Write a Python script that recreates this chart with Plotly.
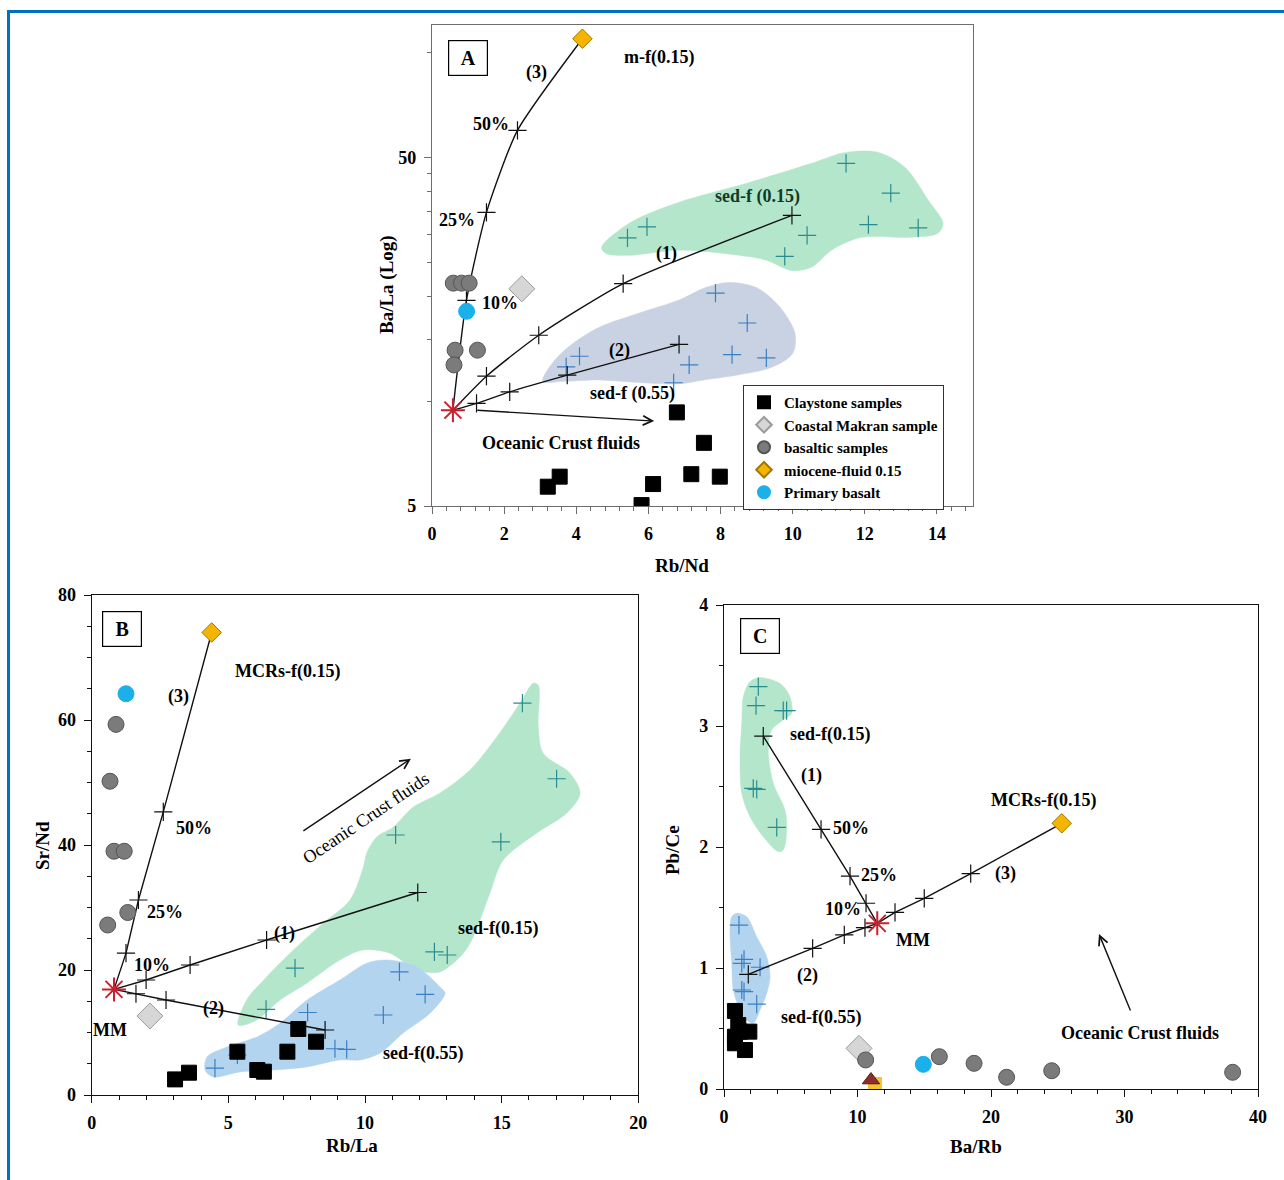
import math
import plotly.graph_objects as go

# ---------------- Panel A : Ba/La (log) vs Rb/Nd ----------------
A_clay_x = [3.21, 3.54, 6.13, 5.81, 6.79, 7.54, 7.19, 7.98]
A_clay_y = [5.68, 6.07, 5.78, 5.03, 9.28, 7.59, 6.17, 6.07]
A_basalt_x = [0.59, 0.82, 1.03, 0.64, 1.26, 0.61]
A_basalt_y = [21.8, 21.8, 21.8, 14.0, 14.0, 12.7]
A_makran_x, A_makran_y = [2.49], [21.0]
A_primary_x, A_primary_y = [0.96], [18.1]
A_fluid_x, A_fluid_y = [4.17], [109.6]
A_mm_x, A_mm_y = [0.58], [9.42]
A_sed015_x = [5.42, 5.96, 11.48, 12.72, 12.10, 13.48, 10.40, 9.78]
A_sed015_y = [29.4, 31.6, 48.1, 39.5, 32.1, 31.4, 29.9, 26.0]
A_sed055_x = [3.72, 4.09, 6.70, 7.86, 8.74, 7.13, 8.32, 9.27]
A_sed055_y = [12.53, 13.45, 11.29, 20.4, 16.75, 12.7, 13.6, 13.3]
A_mix1_x = [0.58, 1.51, 2.96, 5.30, 9.98]
A_mix1_y = [9.42, 11.79, 15.45, 21.73, 34.1]
A_mix2_x = [0.58, 1.235, 2.155, 3.75, 6.85]
A_mix2_y = [9.42, 9.85, 10.63, 11.87, 14.55]
A_mix3_x = [0.58, 0.955, 1.51, 2.37, 4.17]
A_mix3_y = [9.42, 19.45, 34.8, 59.8, 109.6]
A_green_x = [4.70, 5.47, 6.85, 8.70, 10.52, 11.46, 12.38, 13.12, 13.76, 14.17, 14.03, 13.29,
             11.91, 11.08, 10.52, 9.97, 9.25, 8.51, 6.85, 5.47, 4.83]
A_green_y = [27.6, 32.4, 37.2, 42.1, 48.1, 51.7, 51.7, 46.8, 37.7, 32.4, 30.3, 29.5,
             29.5, 27.1, 24.2, 23.7, 25.4, 26.2, 27.1, 26.2, 26.5]
A_blue_x = [3.07, 3.40, 3.95, 4.64, 5.75, 6.85, 7.60, 8.23, 8.98, 9.61, 10.06, 10.00,
            9.42, 8.51, 7.54, 6.85, 5.75, 4.64, 3.67]
A_blue_y = [11.4, 13.1, 14.75, 16.3, 17.9, 19.5, 21.2, 21.9, 21.2, 18.8, 15.7, 13.7,
            12.5, 11.9, 11.5, 11.2, 11.3, 11.5, 11.4]
A_xticks = [0, 2, 4, 6, 8, 10, 12, 14]
A_yticks = [5, 50]
A_yminor = [10, 15, 20, 25, 30, 35, 40, 45, 100]

# ---------------- Panel B : Sr/Nd vs Rb/La ----------------
B_clay_x = [3.05, 3.56, 5.33, 6.06, 6.30, 7.16, 7.56, 8.21]
B_clay_y = [2.5, 3.57, 6.93, 4.0, 3.73, 6.93, 10.56, 8.53]
B_basalt_x = [0.89, 0.67, 0.816, 1.19, 1.32, 0.585]
B_basalt_y = [59.3, 50.2, 39.0, 39.0, 29.2, 27.2]
B_makran_x, B_makran_y = [2.13], [12.64]
B_primary_x, B_primary_y = [1.255], [64.2]
B_fluid_x, B_fluid_y = [4.39], [74.0]
B_mm_x, B_mm_y = [0.816], [16.9]
B_sed015_x = [6.38, 7.44, 11.12, 12.54, 13.01, 14.97, 15.76, 17.01]
B_sed015_y = [13.7, 20.3, 41.6, 22.9, 22.4, 40.5, 62.7, 50.6]
B_sed055_x = [4.51, 5.33, 7.90, 8.90, 9.33, 10.67, 11.26, 12.2]
B_sed055_y = [4.3, 6.4, 13.2, 7.4, 7.3, 12.8, 19.7, 16.1]
B_mix1_x = [0.816, 1.99, 3.60, 6.40, 11.93]
B_mix1_y = [16.9, 18.4, 20.8, 24.8, 32.4]
B_mix2_x = [0.816, 1.62, 2.72, 8.54]
B_mix2_y = [16.9, 16.2, 15.2, 10.4]
B_mix3_x = [0.816, 1.255, 1.71, 2.62, 4.39]
B_mix3_y = [16.9, 22.7, 31.2, 45.3, 74.0]
B_green_x = [5.36, 5.67, 6.40, 7.38, 8.47, 9.45, 9.94, 10.06, 10.43, 11.04, 11.77, 12.74,
             13.84, 14.82, 15.67, 16.16, 16.34, 16.34, 16.52, 17.50, 17.87, 17.38, 16.28,
             15.06, 14.57, 13.96, 13.60, 12.74, 11.89, 10.91, 9.94, 9.08, 7.87, 6.89, 6.04]
B_green_y = [11.2, 15.2, 18.9, 23.2, 27.5, 31.2, 36.5, 38.7, 41.3, 42.9, 46.1, 48.3,
             52.0, 57.3, 62.7, 65.9, 65.6, 58.9, 54.7, 51.5, 48.3, 45.1, 41.9,
             37.6, 32.3, 25.3, 22.7, 19.7, 20.0, 22.7, 23.2, 21.6, 17.9, 15.2, 12.0]
B_blue_x = [4.15, 4.22, 4.95, 6.05, 6.89, 7.88, 9.08, 10.07, 10.80, 11.90, 12.74, 12.93,
            12.38, 11.39, 10.55, 9.82, 9.08, 7.88, 6.64, 5.43, 4.44]
B_blue_y = [4.0, 6.1, 7.7, 9.3, 11.5, 15.2, 18.4, 21.1, 21.6, 20.5, 17.3, 16.3,
            13.1, 9.9, 6.7, 5.6, 5.6, 4.5, 4.0, 3.7, 2.9]

# ---------------- Panel C : Pb/Ce vs Ba/Rb ----------------
C_clay_x = [0.82, 1.07, 1.90, 0.82, 0.82, 1.57, 1.20]
C_clay_y = [0.645, 0.529, 0.474, 0.432, 0.378, 0.322, 0.474]
C_basalt_x = [10.61, 16.13, 18.73, 21.17, 24.55, 38.1]
C_basalt_y = [0.24, 0.267, 0.212, 0.097, 0.151, 0.138]
C_makran_x, C_makran_y = [10.11], [0.336]
C_primary_x, C_primary_y = [14.93], [0.204]
C_fluid_x, C_fluid_y = [25.3], [2.196]
C_mm_x, C_mm_y = [11.48], [1.369]
C_pm_x, C_pm_y = [11.01], [0.074]
C_emorb_x, C_emorb_y = [11.31], [0.041]
C_sed015_x = [2.57, 2.40, 4.44, 4.69, 2.19, 2.45, 3.95]
C_sed015_y = [3.325, 3.168, 3.127, 3.127, 2.485, 2.477, 2.163]
C_sed055_x = [1.12, 1.50, 1.33, 2.70, 1.33, 1.50, 2.45]
C_sed055_y = [1.355, 1.072, 1.039, 1.006, 0.818, 0.804, 0.702]
C_mix1_x = [11.48, 10.64, 9.44, 7.27, 2.94]
C_mix1_y = [1.369, 1.535, 1.76, 2.146, 2.917]
C_mix2_x = [11.48, 10.56, 9.01, 6.64, 1.82]
C_mix2_y = [1.369, 1.333, 1.273, 1.163, 0.948]
C_mix3_x = [11.48, 12.81, 15.0, 18.48, 25.3]
C_mix3_y = [1.369, 1.46, 1.576, 1.78, 2.196]
C_green_x = [2.70, 4.19, 4.94, 5.07, 4.44, 3.57, 3.32, 3.69, 4.57, 4.70, 4.44, 4.07,
             2.94, 1.95, 1.33, 1.20, 1.33, 1.45, 1.95]
C_green_y = [3.40, 3.353, 3.242, 3.105, 3.05, 2.967, 2.802, 2.526, 2.306, 2.14, 1.975, 1.961,
             2.085, 2.25, 2.444, 2.746, 3.022, 3.242, 3.366]
C_blue_x = [0.95, 1.70, 2.45, 3.20, 3.45, 3.20, 2.70, 2.19, 1.70, 1.20, 0.70, 0.58, 0.45, 0.58]
C_blue_y = [1.452, 1.424, 1.259, 1.093, 0.928, 0.791, 0.653, 0.543, 0.570, 0.653, 0.818,
            1.039, 1.314, 1.424]

# ---------------- styles ----------------
FONT = "Liberation Serif"
GREEN_FILL = "#b4e6cc"
A_BLUE_FILL = "#c8d2e2"
BLUE_FILL = "#b2d4ef"
GREEN_CROSS = "#2a8c8e"
BLUE_CROSS = "#3b7fc4"
CLAY = "#000000"
BASALT = "#7b7b7b"
PRIMARY = "#1cb0ea"
MAKRAN = "#d6d6d6"
FLUID = "#f4b400"
STAR = "#c8202c"

fig = go.Figure()
axes = {"A": ("x", "y"), "B": ("x2", "y2"), "C": ("x3", "y3")}


def region(p, xs, ys, color):
    xa, ya = axes[p]
    fig.add_trace(go.Scatter(x=xs + xs[:1], y=ys + ys[:1], mode="lines", fill="toself",
                             fillcolor=color, line=dict(color=color, width=0.5, shape="spline",
                                                        smoothing=0.9),
                             hoverinfo="skip", showlegend=False, xaxis=xa, yaxis=ya))


def crosses(p, xs, ys, color):
    xa, ya = axes[p]
    fig.add_trace(go.Scatter(x=xs, y=ys, mode="markers",
                             marker=dict(symbol="cross-thin-open", size=13, color=color,
                                         line=dict(color=color, width=1.2)),
                             showlegend=False, xaxis=xa, yaxis=ya))


def mixing(p, xs, ys, spline=False):
    xa, ya = axes[p]
    fig.add_trace(go.Scatter(x=xs, y=ys, mode="lines",
                             line=dict(color="#111111", width=1.4,
                                       shape="spline" if spline else "linear", smoothing=0.6),
                             showlegend=False, xaxis=xa, yaxis=ya))
    fig.add_trace(go.Scatter(x=xs[1:], y=ys[1:], mode="markers",
                             marker=dict(symbol="cross-thin-open", size=13, color="#111111",
                                         line=dict(color="#111111", width=1.2)),
                             showlegend=False, xaxis=xa, yaxis=ya))


def points(p, xs, ys, name, symbol, size, color, lcolor, lw=1, legend=False):
    xa, ya = axes[p]
    fig.add_trace(go.Scatter(x=xs, y=ys, mode="markers", name=name,
                             marker=dict(symbol=symbol, size=size, color=color,
                                         line=dict(color=lcolor, width=lw)),
                             showlegend=legend, xaxis=xa, yaxis=ya))


# regions
region("A", A_green_x, A_green_y, GREEN_FILL)
region("A", A_blue_x, A_blue_y, A_BLUE_FILL)
region("B", B_green_x, B_green_y, GREEN_FILL)
region("B", B_blue_x, B_blue_y, BLUE_FILL)
region("C", C_green_x, C_green_y, GREEN_FILL)
region("C", C_blue_x, C_blue_y, BLUE_FILL)

# sediment-fluid crosses
crosses("A", A_sed015_x, A_sed015_y, GREEN_CROSS)
crosses("A", A_sed055_x, A_sed055_y, BLUE_CROSS)
crosses("B", B_sed015_x, B_sed015_y, GREEN_CROSS)
crosses("B", B_sed055_x, B_sed055_y, BLUE_CROSS)
crosses("C", C_sed015_x, C_sed015_y, GREEN_CROSS)
crosses("C", C_sed055_x, C_sed055_y, BLUE_CROSS)

# mixing curves
mixing("A", A_mix1_x, A_mix1_y, spline=True)
mixing("A", A_mix2_x, A_mix2_y, spline=True)
mixing("A", A_mix3_x, A_mix3_y, spline=True)
mixing("B", B_mix1_x, B_mix1_y)
mixing("B", B_mix2_x, B_mix2_y)
mixing("B", B_mix3_x, B_mix3_y)
mixing("C", C_mix1_x, C_mix1_y)
mixing("C", C_mix2_x, C_mix2_y)
mixing("C", C_mix3_x, C_mix3_y)

# sample points (panel A carries the legend)
for p, d in (("A", (A_clay_x, A_clay_y, A_makran_x, A_makran_y, A_basalt_x, A_basalt_y,
                    A_fluid_x, A_fluid_y, A_primary_x, A_primary_y)),
             ("B", (B_clay_x, B_clay_y, B_makran_x, B_makran_y, B_basalt_x, B_basalt_y,
                    B_fluid_x, B_fluid_y, B_primary_x, B_primary_y)),
             ("C", (C_clay_x, C_clay_y, C_makran_x, C_makran_y, C_basalt_x, C_basalt_y,
                    C_fluid_x, C_fluid_y, C_primary_x, C_primary_y))):
    lg = p == "A"
    points(p, d[0], d[1], "Claystone samples", "square", 15, CLAY, CLAY, legend=lg)
    points(p, d[2], d[3], "Coastal Makran sample", "diamond", 20, MAKRAN, "#9a9a9a", legend=lg)
    points(p, d[4], d[5], "basaltic samples", "circle", 16, BASALT, "#555555", legend=lg)
    points(p, d[6], d[7], "miocene-fluid 0.15", "diamond", 15, FLUID, "#a07a00", legend=lg)
    points(p, d[8], d[9], "Primary basalt", "circle", 16, PRIMARY, PRIMARY, legend=lg)

points("C", C_emorb_x, C_emorb_y, "EMORB", "square", 13, "#f5c430", "#f5c430")
points("C", C_pm_x, C_pm_y, "PM", "triangle-up", 15, "#8b2e2e", "#5a1a1a")

points("A", A_mm_x, A_mm_y, "MM", "asterisk-open", 20, STAR, STAR, lw=2)
points("B", B_mm_x, B_mm_y, "MM", "asterisk-open", 20, STAR, STAR, lw=2)
points("C", C_mm_x, C_mm_y, "MM", "asterisk-open", 20, STAR, STAR, lw=2)

# ---------------- annotations ----------------
ann = []
TXT = 18


def label(p, x, y, text, size=TXT, **kw):
    xa, ya = axes[p]
    d = dict(x=x, y=y, xref=xa, yref=ya, text=text, showarrow=False,
             xanchor="center", yanchor="middle",
             font=dict(family=FONT, size=size, color=kw.pop("color", "black"), weight="bold"))
    d.update(kw)
    ann.append(d)


def box(p, x, y, text):
    label(p, x, y, text, size=20, bordercolor="black", borderwidth=1.2, width=36, height=32,
          bgcolor="white")


def arrow(p, x0, y0, x1, y1):
    xa, ya = axes[p]
    ann.append(dict(x=x1, y=y1, ax=x0, ay=y0, xref=xa, yref=ya, axref=xa, ayref=ya,
                    showarrow=True, arrowhead=5, arrowsize=1.3, arrowwidth=1.4,
                    arrowcolor="#111111", text=""))


LG = math.log10
# Panel A (log y -> annotations use log10 values)
box("A", 0.994, 1.985, "A")
label("A", 2.90, 1.943, "(3)")
label("A", 1.63, 1.794, "50%")
label("A", 0.69, 1.521, "25%")
label("A", 1.88, 1.281, "10%")
label("A", 6.30, 1.985, "m-f(0.15)")
label("A", 9.03, 1.587, "sed-f (0.15)", color="#123a28")
label("A", 6.49, 1.424, "(1)")
label("A", 5.19, 1.146, "(2)")
label("A", 5.55, 1.023, "sed-f (0.55)")
label("A", -0.11, 0.8996, "MM")
label("A", 3.59, 0.8795, "Oceanic Crust fluids")
arrow("A", 1.215, 0.974, 6.16, 0.9426)

# Panel B
box("B", 1.11, 74.6, "B")
label("B", 3.19, 63.7, "(3)")
label("B", 7.18, 67.8, "MCRs-f(0.15)")
label("B", 3.74, 42.7, "50%")
label("B", 2.68, 29.3, "25%")
label("B", 2.21, 20.8, "10%")
label("B", 7.07, 25.9, "(1)")
label("B", 4.44, 13.9, "(2)")
label("B", 0.67, 10.4, "MM")
label("B", 14.87, 26.7, "sed-f(0.15)")
label("B", 12.12, 6.7, "sed-f(0.55)")
label("B", 10.04, 44.3, "Oceanic Crust fluids", textangle=-34,
      font=dict(family=FONT, size=18, color="black", weight="normal"))
arrow("B", 7.69, 42.1, 11.68, 53.8)

# Panel C
box("C", 2.70, 3.744, "C")
label("C", 7.94, 2.926, "sed-f(0.15)")
label("C", 6.52, 2.587, "(1)")
label("C", 9.51, 2.157, "50%")
label("C", 11.61, 1.769, "25%")
label("C", 8.91, 1.488, "10%")
label("C", 14.16, 1.231, "MM")
label("C", 6.22, 0.942, "(2)")
label("C", 7.27, 0.595, "sed-f(0.55)")
label("C", 23.9, 2.388, "MCRs-f(0.15)")
label("C", 21.05, 1.785, "(3)")
label("C", 31.16, 0.463, "Oceanic Crust fluids")
arrow("C", 30.49, 0.636, 28.09, 1.281)
label("C", 12.13, -0.182, "PM")
label("C", 13.63, -0.372, "EMORB")

W, H = 1284, 1180


def ptitle(px, py, text, angle=0):
    ann.append(dict(x=px / W, y=1 - py / H, xref="paper", yref="paper", text=text,
                    showarrow=False, textangle=angle, xanchor="center", yanchor="middle",
                    font=dict(family=FONT, size=19, color="black", weight="bold")))


ptitle(682, 565, "Rb/Nd")
ptitle(387, 285, "Ba/La (Log)", -90)
ptitle(352, 1145, "Rb/La")
ptitle(42, 845, "Sr/Nd", -90)
ptitle(976, 1146, "Ba/Rb")
ptitle(672, 850, "Pb/Ce", -90)

# ---------------- axes ----------------
tickfont = dict(family=FONT, size=18, color="black", weight="bold")


def axis(domain, rng, lc, anchor, **kw):
    d = dict(domain=domain, range=rng, anchor=anchor, showgrid=False, zeroline=False,
             showline=True, linecolor=lc, linewidth=1.2, mirror=True, ticks="outside",
             ticklen=7, tickcolor=lc, tickwidth=1.2, tickfont=tickfont,
             ticklabelstandoff=4, automargin=False)
    d.update(kw)
    return d


A_lc = "#6e6e6e"
fig.update_layout(
    width=W, height=H, margin=dict(l=0, r=0, t=0, b=0, pad=0, autoexpand=False),
    paper_bgcolor="white", plot_bgcolor="white",
    font=dict(family=FONT, size=17, color="black", weight="bold"),
    xaxis=axis([432 / W, 973 / W], [0, 15], A_lc, "y", tickvals=A_xticks,
               minor=dict(dtick=0.4, ticks="outside", ticklen=4, tickcolor=A_lc)),
    yaxis=axis([1 - 506 / H, 1 - 25 / H], [LG(5), LG(120)], A_lc, "x", type="log",
               tickvals=A_yticks, ticktext=[str(v) for v in A_yticks],
               minor=dict(tickmode="array", tickvals=A_yminor, ticks="outside", ticklen=4,
                          tickcolor=A_lc)),
    xaxis2=axis([91.7 / W, 638.3 / W], [0, 20], "#111111", "y2", dtick=5,
                minor=dict(dtick=1, ticks="outside", ticklen=4, tickcolor="#111111")),
    yaxis2=axis([1 - 1095 / H, 1 - 595 / H], [0, 80], "#111111", "x2", dtick=20,
                minor=dict(dtick=5, ticks="outside", ticklen=4, tickcolor="#111111")),
    xaxis3=axis([724 / W, 1258 / W], [0, 40], "#111111", "y3", dtick=10,
                minor=dict(dtick=2, ticks="outside", ticklen=4, tickcolor="#111111")),
    yaxis3=axis([1 - 1089 / H, 1 - 605 / H], [0, 4], "#111111", "x3", dtick=1,
                minor=dict(dtick=0.5, ticks="outside", ticklen=4, tickcolor="#111111")),
    annotations=ann,
    legend=dict(x=743 / W, y=1 - 385 / H, xanchor="left", yanchor="top",
                bgcolor="white", bordercolor="#333333", borderwidth=1,
                font=dict(family=FONT, size=15, color="black", weight="bold"),
                itemwidth=30, itemsizing="constant", tracegroupgap=0,
                traceorder="normal"),
    shapes=[
        dict(type="line", xref="paper", yref="paper", x0=8.5 / W, x1=8.5 / W, y0=0,
             y1=1 - 11.5 / H, line=dict(color="#0070C0", width=3)),
        dict(type="line", xref="paper", yref="paper", x0=7 / W, x1=1, y0=1 - 11.5 / H,
             y1=1 - 11.5 / H, line=dict(color="#0070C0", width=3)),
    ],
)

fig.write_html("out.html", config={"displayModeBar": False},
               post_script="document.body.style.margin='0';"
               "document.body.style.overflow='hidden';")
